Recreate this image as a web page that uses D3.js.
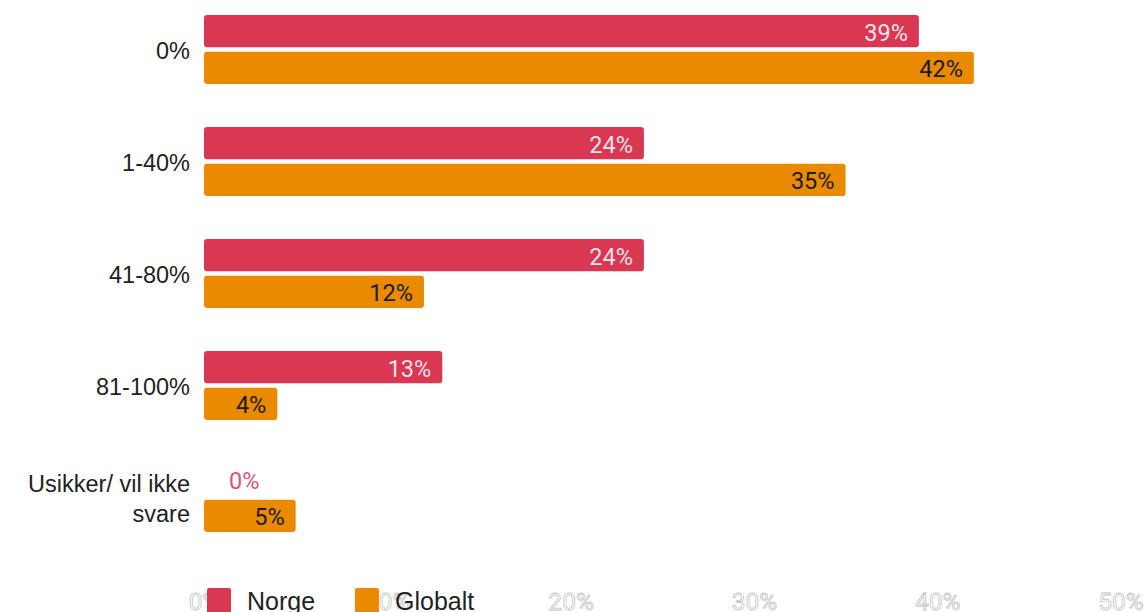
<!DOCTYPE html>
<html><head><meta charset="utf-8">
<script src="https://cdn.jsdelivr.net/npm/d3@7"></script>
<style>body{margin:0;background:#fff}svg{display:block}</style>
</head><body>
<svg id="c" width="1147" height="612"></svg>
<script>
const categories = ["0%", "1-40%", "41-80%", "81-100%", "Usikker/ vil ikke svare"];
const categoryLines = [["0%"], ["1-40%"], ["41-80%"], ["81-100%"], ["Usikker/ vil ikke", "svare"]];
const seriesNames = ["Norge", "Globalt"];
const norge = [39, 24, 24, 13, 0];
const globalt = [42, 35, 12, 4, 5];
const xTicks = [0, 10, 20, 30, 40, 50];
const colors = {Norge: "#DA3753", Globalt: "#E98A00"};
const labelColors = {Norge: "rgba(255,255,255,0.88)", Globalt: "#1c1c1c"};

const svg = d3.select("#c");
const x = d3.scaleLinear().domain([0, 50]).range([204, 1120.5]);
const y = d3.scaleBand().domain(categories).range([-6.5, 553.5]).paddingInner(0.384).paddingOuter(0.192);
const ySub = d3.scaleBand().domain(seriesNames).range([0, y.bandwidth()]).paddingInner(0.12);

// x axis labels (white with gray outline)
const axisG = svg.append("g").attr("transform", "translate(0,601)");
axisG.call(d3.axisBottom(x).tickValues(xTicks).tickFormat(d => d + "%").tickSize(0).tickPadding(0));
axisG.select(".domain").remove();
axisG.selectAll("text")
  .attr("dy", "0.35em").attr("y", 0)
  .attr("font-family", "Roboto, sans-serif").attr("font-size", 24.5)
  .attr("fill", "#fff").attr("stroke", "#c4c4c4").attr("stroke-width", 0.8);

const data = [];
categories.forEach((c, i) => {
  data.push({cat: c, s: "Norge", v: norge[i]});
  data.push({cat: c, s: "Globalt", v: globalt[i]});
});

svg.append("g").selectAll("rect").data(data.filter(d => d.v > 0)).join("rect")
  .attr("x", x(0))
  .attr("y", d => y(d.cat) + ySub(d.s))
  .attr("width", d => x(d.v) - x(0))
  .attr("height", ySub.bandwidth())
  .attr("rx", 3)
  .attr("fill", d => colors[d.s]);

// value labels
svg.append("g").selectAll("text").data(data).join("text")
  .attr("x", d => d.v > 0 ? x(d.v) - 11 : x(0) + 25)
  .attr("y", d => y(d.cat) + ySub(d.s) + ySub.bandwidth() / 2 + 1)
  .attr("dy", "0.36em")
  .attr("text-anchor", d => d.v > 0 ? "end" : "start")
  .attr("font-family", "Roboto, sans-serif").attr("font-size", 23.5)
  .attr("fill", d => d.v > 0 ? labelColors[d.s] : "#D9567A")
  .attr("stroke", d => d.v > 0 ? "none" : "#fff")
  .attr("stroke-width", 4).attr("paint-order", "stroke")
  .text(d => d.v + "%");

// category labels
const catG = svg.append("g");
categories.forEach((c, i) => {
  const lines = categoryLines[i];
  const cy = y(c) + y.bandwidth() / 2;
  const t = catG.append("text")
    .attr("x", 190).attr("text-anchor", "end")
    .attr("font-family", "'Liberation Sans', Arial, sans-serif").attr("font-size", 23.5)
    .attr("fill", "#222");
  lines.forEach((l, j) => {
    t.append("tspan").attr("x", 190)
      .attr("y", cy + 1 + (j - (lines.length - 1) / 2) * 30)
      .attr("dy", "0.35em").text(l);
  });
});

// legend
const legend = svg.append("g");
const legendX = [207, 355];
seriesNames.forEach((s, i) => {
  legend.append("rect").attr("x", legendX[i]).attr("y", 588).attr("width", 24).attr("height", 26)
    .attr("rx", 2).attr("fill", colors[s]);
  legend.append("text").attr("x", legendX[i] + 40).attr("y", 601).attr("dy", "0.35em")
    .attr("font-family", "'Liberation Sans', Arial, sans-serif").attr("font-size", 25)
    .attr("fill", "#222").text(s);
});
</script>
</body></html>
